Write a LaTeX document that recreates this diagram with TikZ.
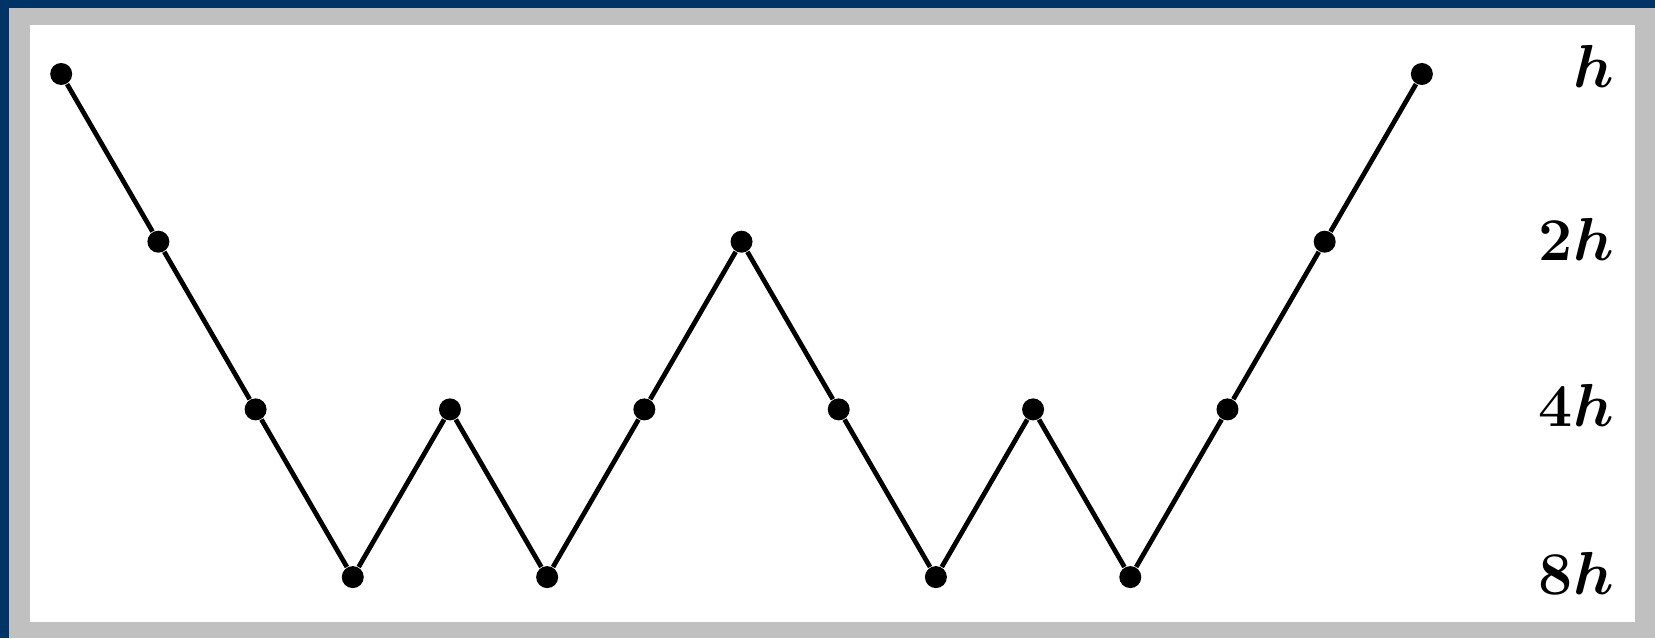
\documentclass[tikz,border=0pt]{standalone}
\usepackage{amsmath}
\usepackage{xcolor}
\usepackage{tikz}
\usetikzlibrary{positioning}
\definecolor{frameblue}{RGB}{0,51,102}
\definecolor{framegrey}{RGB}{192,192,192}

\begin{document}
\begin{tikzpicture}[
  dot/.style={circle, fill=black, inner sep=0pt, minimum size=2.2mm},
  lvl/.style={anchor=base east, font=\fontsize{19}{23}\selectfont\boldmath},
  edge/.style={line width=1.35pt},
]
\useasboundingbox (0,0) rectangle (16.55,6.38);
\fill[frameblue] (0,0) rectangle (16.55,6.38);
\fill[framegrey] (0.09,0) rectangle (16.55,6.30);
\fill[white] (0.30,0.16) rectangle (16.35,6.13);

% points of the path, level 0..3
\foreach \l [count=\i] in {0,1,2,3,2,3,2,1,2,3,2,3,2,1,0}
  \node[dot] (p\i) at ({0.612+0.9719*(\i-1)}, {5.64-1.677*\l}) {};
\foreach \i [count=\j from 2] in {1,...,14}
  \draw[edge] (p\i) -- (p\j);

\node[lvl] (lh)  at (16.26,5.50) {$h$};
\node[lvl] (l2h) at (16.26,3.77) {$2h$};
\node[lvl] (l4h) at (16.26,2.12) {$4h$};
\node[lvl] (l8h) at (16.26,0.44) {$8h$};
\end{tikzpicture}
\end{document}
